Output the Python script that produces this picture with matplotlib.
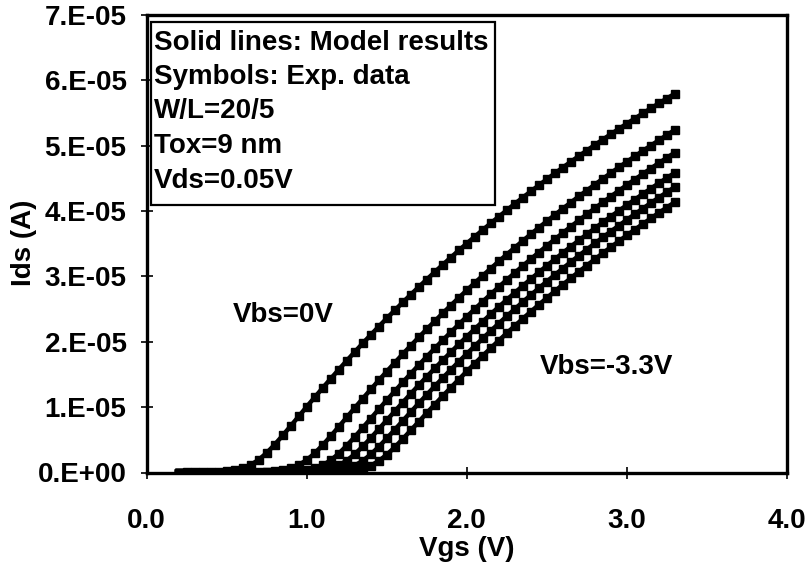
import matplotlib
matplotlib.use("Agg")
import matplotlib.pyplot as plt
from matplotlib.patches import Rectangle

plt.rcParams['font.family'] = ['Liberation Sans', 'DejaVu Sans']
plt.rcParams['font.weight'] = 'bold'

# ---------------- data (Ids in units of 1e-5 A) ----------------
vgs = [0.20, 0.25, 0.30, 0.35, 0.40, 0.45, 0.50, 0.55, 0.60, 0.65,
       0.70, 0.75, 0.80, 0.85, 0.90, 0.95, 1.00, 1.05, 1.10, 1.15,
       1.20, 1.25, 1.30, 1.35, 1.40, 1.45, 1.50, 1.55, 1.60, 1.65,
       1.70, 1.75, 1.80, 1.85, 1.90, 1.95, 2.00, 2.05, 2.10, 2.15,
       2.20, 2.25, 2.30, 2.35, 2.40, 2.45, 2.50, 2.55, 2.60, 2.65,
       2.70, 2.75, 2.80, 2.85, 2.90, 2.95, 3.00, 3.05, 3.10, 3.15,
       3.20, 3.25, 3.30]

vbs_labels = ['0V', '-0.66V', '-1.32V', '-1.98V', '-2.64V', '-3.3V']

ids_vbs1 = [0.000, 0.001, 0.001, 0.002, 0.004, 0.009, 0.017, 0.034, 0.064, 0.116,
            0.195, 0.301, 0.427, 0.567, 0.712, 0.859, 1.006, 1.151, 1.294, 1.435,
            1.574, 1.710, 1.844, 1.976, 2.105, 2.232, 2.358, 2.481, 2.602, 2.721,
            2.838, 2.953, 3.067, 3.178, 3.288, 3.397, 3.503, 3.608, 3.711, 3.813,
            3.913, 4.012, 4.110, 4.206, 4.300, 4.393, 4.485, 4.576, 4.665, 4.753,
            4.840, 4.925, 5.010, 5.093, 5.175, 5.256, 5.336, 5.415, 5.493, 5.570,
            5.646, 5.721, 5.795]

ids_vbs2 = [0.000, 0.000, 0.000, 0.000, 0.000, 0.000,
            0.000, 0.000, 0.001, 0.002, 0.004, 0.008, 0.017, 0.033, 0.063, 0.114,
            0.191, 0.295, 0.420, 0.556, 0.699, 0.843, 0.988, 1.130, 1.270, 1.409,
            1.545, 1.679, 1.811, 1.940, 2.067, 2.192, 2.315, 2.436, 2.555, 2.672,
            2.787, 2.900, 3.011, 3.121, 3.229, 3.335, 3.440, 3.543, 3.645, 3.745,
            3.843, 3.940, 4.036, 4.130, 4.223, 4.314, 4.404, 4.493, 4.581, 4.667,
            4.753, 4.837, 4.920, 5.001, 5.082, 5.162, 5.240]

ids_vbs3 = [0.000, 0.000, 0.000, 0.000, 0.000, 0.000, 0.000, 0.000, 0.000,
            0.000, 0.000, 0.001, 0.002, 0.004, 0.008, 0.016, 0.032, 0.062, 0.112,
            0.187, 0.289, 0.411, 0.544, 0.684, 0.825, 0.966, 1.106, 1.243, 1.379,
            1.512, 1.643, 1.772, 1.898, 2.023, 2.145, 2.265, 2.384, 2.500, 2.615,
            2.727, 2.838, 2.947, 3.054, 3.160, 3.264, 3.366, 3.467, 3.567, 3.664,
            3.761, 3.856, 3.949, 4.041, 4.132, 4.222, 4.310, 4.397, 4.483, 4.567,
            4.651, 4.733, 4.814, 4.894]

ids_vbs4 = [0.000, 0.000, 0.000, 0.000, 0.000, 0.000, 0.000, 0.000, 0.000, 0.000, 0.000,
            0.000, 0.000, 0.001, 0.002, 0.004, 0.008, 0.016, 0.031, 0.060, 0.108,
            0.182, 0.280, 0.398, 0.527, 0.663, 0.799, 0.936, 1.071, 1.204, 1.336,
            1.465, 1.592, 1.717, 1.839, 1.960, 2.078, 2.195, 2.309, 2.422, 2.533,
            2.642, 2.749, 2.855, 2.959, 3.061, 3.162, 3.261, 3.359, 3.455, 3.550,
            3.643, 3.735, 3.826, 3.915, 4.003, 4.090, 4.175, 4.260, 4.343, 4.425,
            4.505, 4.585]

ids_vbs5 = [0.000, 0.000, 0.000, 0.000, 0.000, 0.000, 0.000, 0.000, 0.000, 0.000,
            0.000, 0.000, 0.000,
            0.000, 0.000, 0.001, 0.002, 0.004, 0.008, 0.016, 0.031, 0.059, 0.107,
            0.179, 0.276, 0.393, 0.521, 0.654, 0.789, 0.924, 1.058, 1.189, 1.319,
            1.446, 1.571, 1.694, 1.815, 1.934, 2.051, 2.166, 2.279, 2.391, 2.500,
            2.608, 2.714, 2.818, 2.921, 3.022, 3.121, 3.219, 3.316, 3.411, 3.504,
            3.596, 3.687, 3.776, 3.865, 3.951, 4.037, 4.122, 4.205, 4.287, 4.368]

ids_vbs6 = [0.000, 0.000, 0.000, 0.000, 0.000, 0.000, 0.000, 0.000, 0.000, 0.000,
            0.000, 0.000, 0.000, 0.000, 0.000,
            0.000, 0.000, 0.001, 0.002, 0.004, 0.008, 0.015, 0.031, 0.058, 0.105,
            0.176, 0.272, 0.386, 0.512, 0.644, 0.776, 0.909, 1.040, 1.169, 1.297,
            1.422, 1.546, 1.667, 1.786, 1.903, 2.018, 2.131, 2.242, 2.352, 2.459,
            2.565, 2.669, 2.772, 2.873, 2.972, 3.070, 3.166, 3.261, 3.355, 3.447,
            3.537, 3.627, 3.715, 3.801, 3.887, 3.971, 4.054, 4.136]

curves = [ids_vbs1, ids_vbs2, ids_vbs3, ids_vbs4, ids_vbs5, ids_vbs6]

x_ticks = [0.0, 1.0, 2.0, 3.0, 4.0]
x_tick_labels = ['0.0', '1.0', '2.0', '3.0', '4.0']
y_ticks = [0e-5, 1e-5, 2e-5, 3e-5, 4e-5, 5e-5, 6e-5, 7e-5]
y_tick_labels = ['0.E+00', '1.E-05', '2.E-05', '3.E-05', '4.E-05', '5.E-05', '6.E-05', '7.E-05']

info_lines = ['Solid lines: Model results', 'Symbols: Exp. data', 'W/L=20/5',
              'Tox=9 nm', 'Vds=0.05V']

# ---------------- figure ----------------
W, H = 809, 567
fig = plt.figure(figsize=(W / 100, H / 100), dpi=100)
ax_l, ax_r, ax_t, ax_b = 146.7, 786.7, 15.0, 472.5
ax = fig.add_axes([ax_l / W, 1 - ax_b / H, (ax_r - ax_l) / W, (ax_b - ax_t) / H])

for ids, lab in zip(curves, vbs_labels):
    ax.plot(vgs, [v * 1e-5 for v in ids], color='black', lw=3.2,
            marker='s', ms=6.2, mfc='black', mec='black', label='Vbs=' + lab)

ax.set_xlim(0, 4)
ax.set_ylim(0, 7e-5)
ax.set_xticks(x_ticks)
ax.set_xticklabels(x_tick_labels)
ax.set_yticks(y_ticks)
ax.set_yticklabels(y_tick_labels)

for s in ax.spines.values():
    s.set_linewidth(2.4)
    s.set_color('black')

ax.tick_params(axis='both', direction='inout', length=9, width=1.2, labelsize=20)
ax.tick_params(axis='x', pad=21)
ax.tick_params(axis='y', pad=10)
for t in ax.get_xticklabels() + ax.get_yticklabels():
    t.set_fontweight('bold')

ax.set_xlabel('Vgs (V)', fontsize=20, fontweight='bold')
ax.set_ylabel('Ids (A)', fontsize=20, fontweight='bold')
ax.xaxis.set_label_coords(0.5, (ax_b - 549) / (ax_b - ax_t))
ax.xaxis.label.set_verticalalignment('center')
ax.yaxis.set_label_coords((24 - ax_l) / (ax_r - ax_l), (ax_b - 243) / (ax_b - ax_t))
ax.yaxis.label.set_verticalalignment('center')

# info box
bx0, by0, bx1, by1 = 151, 22, 495, 205
rect = Rectangle((bx0 / W, 1 - by1 / H), (bx1 - bx0) / W, (by1 - by0) / H,
                 transform=fig.transFigure, facecolor='white', edgecolor='black',
                 lw=1.6, zorder=5)
fig.add_artist(rect)
baselines = [50, 84, 118, 153, 188]
for txt, yb in zip(info_lines, baselines):
    fig.text(154 / W, 1 - yb / H, txt, fontsize=20, fontweight='bold',
             ha='left', va='baseline', zorder=6)

fig.text(233 / W, 1 - 315 / H, 'Vbs=0V', fontsize=20, fontweight='bold',
         ha='left', va='center')
fig.text(540 / W, 1 - 367 / H, 'Vbs=-3.3V', fontsize=20, fontweight='bold',
         ha='left', va='center')

fig.savefig('out.png', dpi=100)
